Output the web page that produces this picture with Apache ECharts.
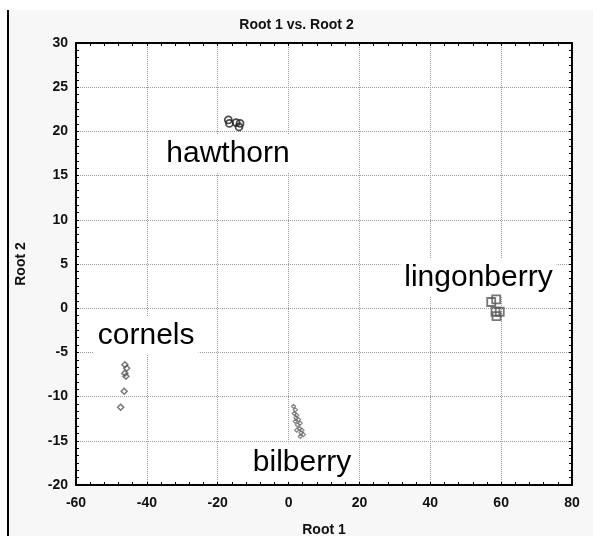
<!DOCTYPE html>
<html>
<head>
<meta charset="utf-8">
<script src="https://cdn.jsdelivr.net/npm/echarts@6/dist/echarts.min.js"></script>
<style>
html,body{margin:0;padding:0;background:#fff;}
#chart{width:593px;height:536px;}
</style>
</head>
<body>
<div id="chart"></div>
<script>
// ---- data ----
const titleText = 'Root 1 vs. Root 2';
const xName = 'Root 1';
const yName = 'Root 2';
const xMin = -60, xMax = 80, xStep = 20;
const yMin = -20, yMax = 30, yStep = 5;

const hawthorn = [[-17.0, 21.3], [-16.7, 20.9], [-14.8, 21.0], [-13.7, 20.9], [-14.0, 20.5]];
const lingonberry = [[57.2, 0.7], [58.6, 1.0], [59.6, -0.4], [58.4, -0.4], [58.7, -0.9]];
const cornels = [[-46.2, -6.4], [-45.7, -6.8], [-46.2, -7.35], [-45.9, -7.7], [-46.4, -9.4], [-47.4, -11.2]];
const bilberry = [[1.4, -11.1], [1.9, -11.5], [1.6, -11.9], [2.3, -12.1], [2.1, -12.4], [2.8, -12.6],
  [1.9, -12.8], [3.3, -13.0], [2.5, -13.2], [3.1, -13.6], [3.8, -13.8], [2.3, -13.8], [3.5, -14.1],
  [4.2, -14.3], [3.3, -14.5]];

const groupNames = ['hawthorn', 'lingonberry', 'cornels', 'bilberry'];
const groupLabelPos = [[-17.1, 17.45], [53.6, 3.45], [-40.2, -3.15], [3.8, -17.45]];

// ---- chart ----
const chart = echarts.init(document.getElementById('chart'), null, {renderer: 'canvas'});
const G = {left: 76, top: 43, width: 496, height: 442};
const FF = 'Liberation Sans, Arial, sans-serif';
const tickFont = {fontFamily: FF, fontSize: 14, fontWeight: 'bold', color: '#111'};

function xAx(pos, primary) {
  return {
    type: 'value', position: pos, min: xMin, max: xMax, interval: xStep,
    axisLine: {show: true, onZero: false, lineStyle: {color: '#000', width: 2}},
    axisTick: {show: true, inside: true, length: 3, lineStyle: {color: '#000'}},
    minorTick: {show: true, splitNumber: 5, length: 3, lineStyle: {color: '#000'}},
    axisLabel: primary ? Object.assign({show: true, margin: 11}, tickFont) : {show: false},
    splitLine: {show: primary, lineStyle: {color: '#9a9a9a', type: 'dotted', width: 1}},
    name: primary ? xName : '', nameLocation: 'middle', nameGap: 38,
    nameTextStyle: {fontFamily: FF, fontSize: 14, fontWeight: 'bold', color: '#111'}
  };
}
function yAx(pos, primary) {
  return {
    type: 'value', position: pos, min: yMin, max: yMax, interval: yStep,
    axisLine: {show: true, onZero: false, lineStyle: {color: '#000', width: 2}},
    axisTick: {show: true, inside: true, length: 3, lineStyle: {color: '#000'}},
    minorTick: {show: true, splitNumber: 6, length: 3, lineStyle: {color: '#000'}},
    axisLabel: primary ? Object.assign({show: true, margin: 8}, tickFont) : {show: false},
    splitLine: {show: primary, lineStyle: {color: '#9a9a9a', type: 'dotted', width: 1}},
    name: primary ? yName : '', nameLocation: 'middle', nameGap: 48, nameRotate: 90,
    nameTextStyle: {fontFamily: FF, fontSize: 14, fontWeight: 'bold', color: '#111'}
  };
}

const option = {
  backgroundColor: '#fff',
  animation: false,
  graphic: [
    {type: 'rect', z: -10, silent: true, shape: {x: 9, y: 10, width: 584, height: 526}, style: {fill: '#f7f7f7'}},
    {type: 'rect', z: -9, silent: true, shape: {x: G.left, y: G.top, width: G.width, height: G.height}, style: {fill: '#fff'}},
    {type: 'line', z: -8, silent: true, shape: {x1: 8, y1: 10, x2: 8, y2: 536}, style: {stroke: '#000', lineWidth: 2}}
  ],
  title: {
    text: titleText, left: 'center', top: 13,
    textStyle: {fontFamily: FF, fontSize: 14, fontWeight: 'bold', color: '#111'}
  },
  grid: {left: G.left, top: G.top, width: G.width, height: G.height, containLabel: false, outerBoundsMode: 'none'},
  xAxis: [xAx('bottom', true), xAx('top', false)],
  yAxis: [yAx('left', true), yAx('right', false)],
  series: [
    {type: 'scatter', name: 'hawthorn', data: hawthorn, symbol: 'circle', symbolSize: 7, z: 5,
      itemStyle: {color: 'rgba(0,0,0,0)', borderColor: '#222', borderWidth: 1.8}},
    {type: 'scatter', name: 'lingonberry', data: lingonberry, symbol: 'rect', symbolSize: 8, z: 5,
      itemStyle: {color: 'rgba(0,0,0,0)', borderColor: '#555', borderWidth: 1.8}},
    {type: 'scatter', name: 'cornels', data: cornels, symbol: 'diamond', symbolSize: 6, z: 5,
      itemStyle: {color: 'rgba(0,0,0,0)', borderColor: '#555', borderWidth: 1.5}},
    {type: 'scatter', name: 'bilberry', data: bilberry, symbol: 'diamond', symbolSize: 4, z: 5,
      itemStyle: {color: 'rgba(0,0,0,0)', borderColor: '#666', borderWidth: 1.2}},
    {type: 'scatter', name: 'labels', symbolSize: 0, z: 3, silent: true,
      itemStyle: {opacity: 1},
      data: groupNames.map((n, i) => ({name: n, value: groupLabelPos[i]})),
      label: {show: true, position: 'inside', formatter: '{b}', color: '#000', opacity: 1,
        fontFamily: FF, fontSize: 30,
        backgroundColor: '#fff', padding: [4, 4, 4, 4]}}
  ]
};
chart.setOption(option);
</script>
</body>
</html>
